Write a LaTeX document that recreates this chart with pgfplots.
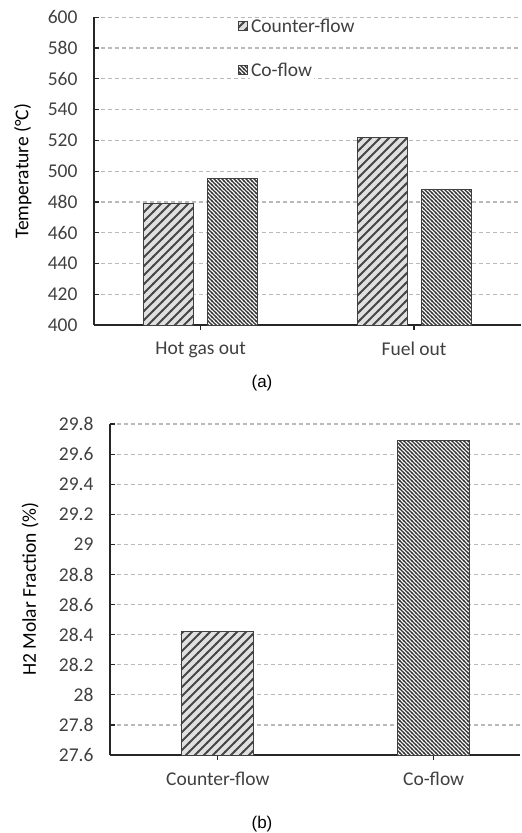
\documentclass[border=0pt]{standalone}
\usepackage{pgfplots}
\pgfplotsset{compat=1.18}
\usetikzlibrary{patterns}
\usepackage{fontspec}
\setmainfont{Carlito}
\newfontfamily\arialfont{Liberation Sans}
\definecolor{txt}{RGB}{64,64,64}
\definecolor{gridc}{RGB}{185,185,185}
\definecolor{barline}{RGB}{64,64,64}
\pgfdeclarepatternformonly{cfpat}{\pgfpoint{-1pt}{-1pt}}{\pgfpoint{10pt}{10pt}}{\pgfpoint{9pt}{9pt}}{
  \pgfsetlinewidth{2.1pt}
  \pgfpathmoveto{\pgfpoint{-1pt}{-1pt}}\pgfpathlineto{\pgfpoint{10pt}{10pt}}
  \pgfusepath{stroke}}
\pgfdeclarepatternformonly{copat}{\pgfpoint{-1pt}{-1pt}}{\pgfpoint{5pt}{5pt}}{\pgfpoint{4pt}{4pt}}{
  \pgfsetlinewidth{1.2pt}
  \pgfpathmoveto{\pgfpoint{-1pt}{5pt}}\pgfpathlineto{\pgfpoint{5pt}{-1pt}}
  \pgfusepath{stroke}}
\tikzset{
  cfbar/.style={draw=barline, line width=1pt, fill=black!12,
    postaction={pattern=cfpat, pattern color=black!72}},
  cobar/.style={draw=barline, line width=1pt, fill=white,
    postaction={pattern=copat, pattern color=black!80}},
}
\pgfplotsset{
  myaxis/.style={
    scale only axis,
    ybar,
    axis x line*=bottom, axis y line*=left,
    axis line style={black!85, line width=1.2pt},
    ymajorgrids,
    grid style={gridc, dash pattern=on 4pt off 3pt, line width=1.2pt},
    tick align=inside, major tick length=5pt,
    tick style={black!85, line width=1.2pt},
    x tick style={yshift=-5pt},
    font=\fontsize{19.5}{22}\selectfont,
    tick label style={text=txt, font=\fontsize{19.5}{22}\selectfont},
    /pgf/number format/assume math mode=true,
    yticklabel style={xshift=-13pt},
    xticklabel style={yshift=-13.5pt},
    label style={text=txt, font=\fontsize{19.5}{22}\selectfont},
  },
}
\begin{document}
\begin{tikzpicture}
\useasboundingbox (0pt,0pt) rectangle (522pt,-833pt);
\begin{axis}[myaxis,
  at={(94pt,-325pt)}, anchor=south west,
  width=426.7pt, height=307.7pt,
  bar width=50pt,
  xmin=-0.5, xmax=1.5, ymin=400, ymax=600,
  xtick={0,1}, xticklabels={Hot gas out, Fuel out},
  ytick={400,420,440,460,480,500,520,540,560,580,600},
  ylabel={Temperature (°C)},
  every axis y label/.style={at={(axis description cs:-0.167,0.5)}, rotate=90, anchor=center},
  legend style={at={(0.336,1)}, anchor=north west, draw=none, fill=none, inner sep=0pt,
    row sep=26pt, font=\fontsize{19.5}{22}\selectfont, text=txt,
    nodes={fill=white, inner sep=1.5pt},
    /tikz/every odd column/.style={column sep=2pt}},
  legend cell align=left,
  legend image code/.code={\draw[#1, bar shift=0pt] (0pt,-4.5pt) rectangle (9pt,4.5pt);},
]
\addplot[cfbar, bar shift=-32pt] coordinates {(0,479) (1,522)};
\addplot[cobar, bar shift=32pt] coordinates {(0,495) (1,488)};
\legend{Counter-flow, Co-flow}
\end{axis}
\begin{axis}[myaxis,
  at={(110pt,-755pt)}, anchor=south west,
  width=410pt, height=331pt,
  bar width=72pt,
  xmin=-0.5, xmax=1.40, ymin=27.6, ymax=29.8,
  xtick={0,1}, xticklabels={Counter-flow, Co-flow},
  ytick={27.6,27.8,28,28.2,28.4,28.6,28.8,29,29.2,29.4,29.6,29.8},
  yticklabels={27.6,27.8,28,28.2,28.4,28.6,28.8,29,29.2,29.4,29.6,29.8},
  ylabel={H2 Molar Fraction (\%)},
  every axis y label/.style={at={(axis description cs:-0.195,0.5)}, rotate=90, anchor=center},
]
\addplot[cfbar, bar shift=0pt] coordinates {(0,28.42)};
\addplot[cobar, bar shift=0pt] coordinates {(1,29.69)};
\end{axis}
\node[font=\arialfont\fontsize{17}{20}\selectfont, text=black] at (262pt,-383.5pt) {(a)};
\node[font=\arialfont\fontsize{17}{20}\selectfont, text=black] at (262pt,-824.5pt) {(b)};
\end{tikzpicture}
\end{document}
